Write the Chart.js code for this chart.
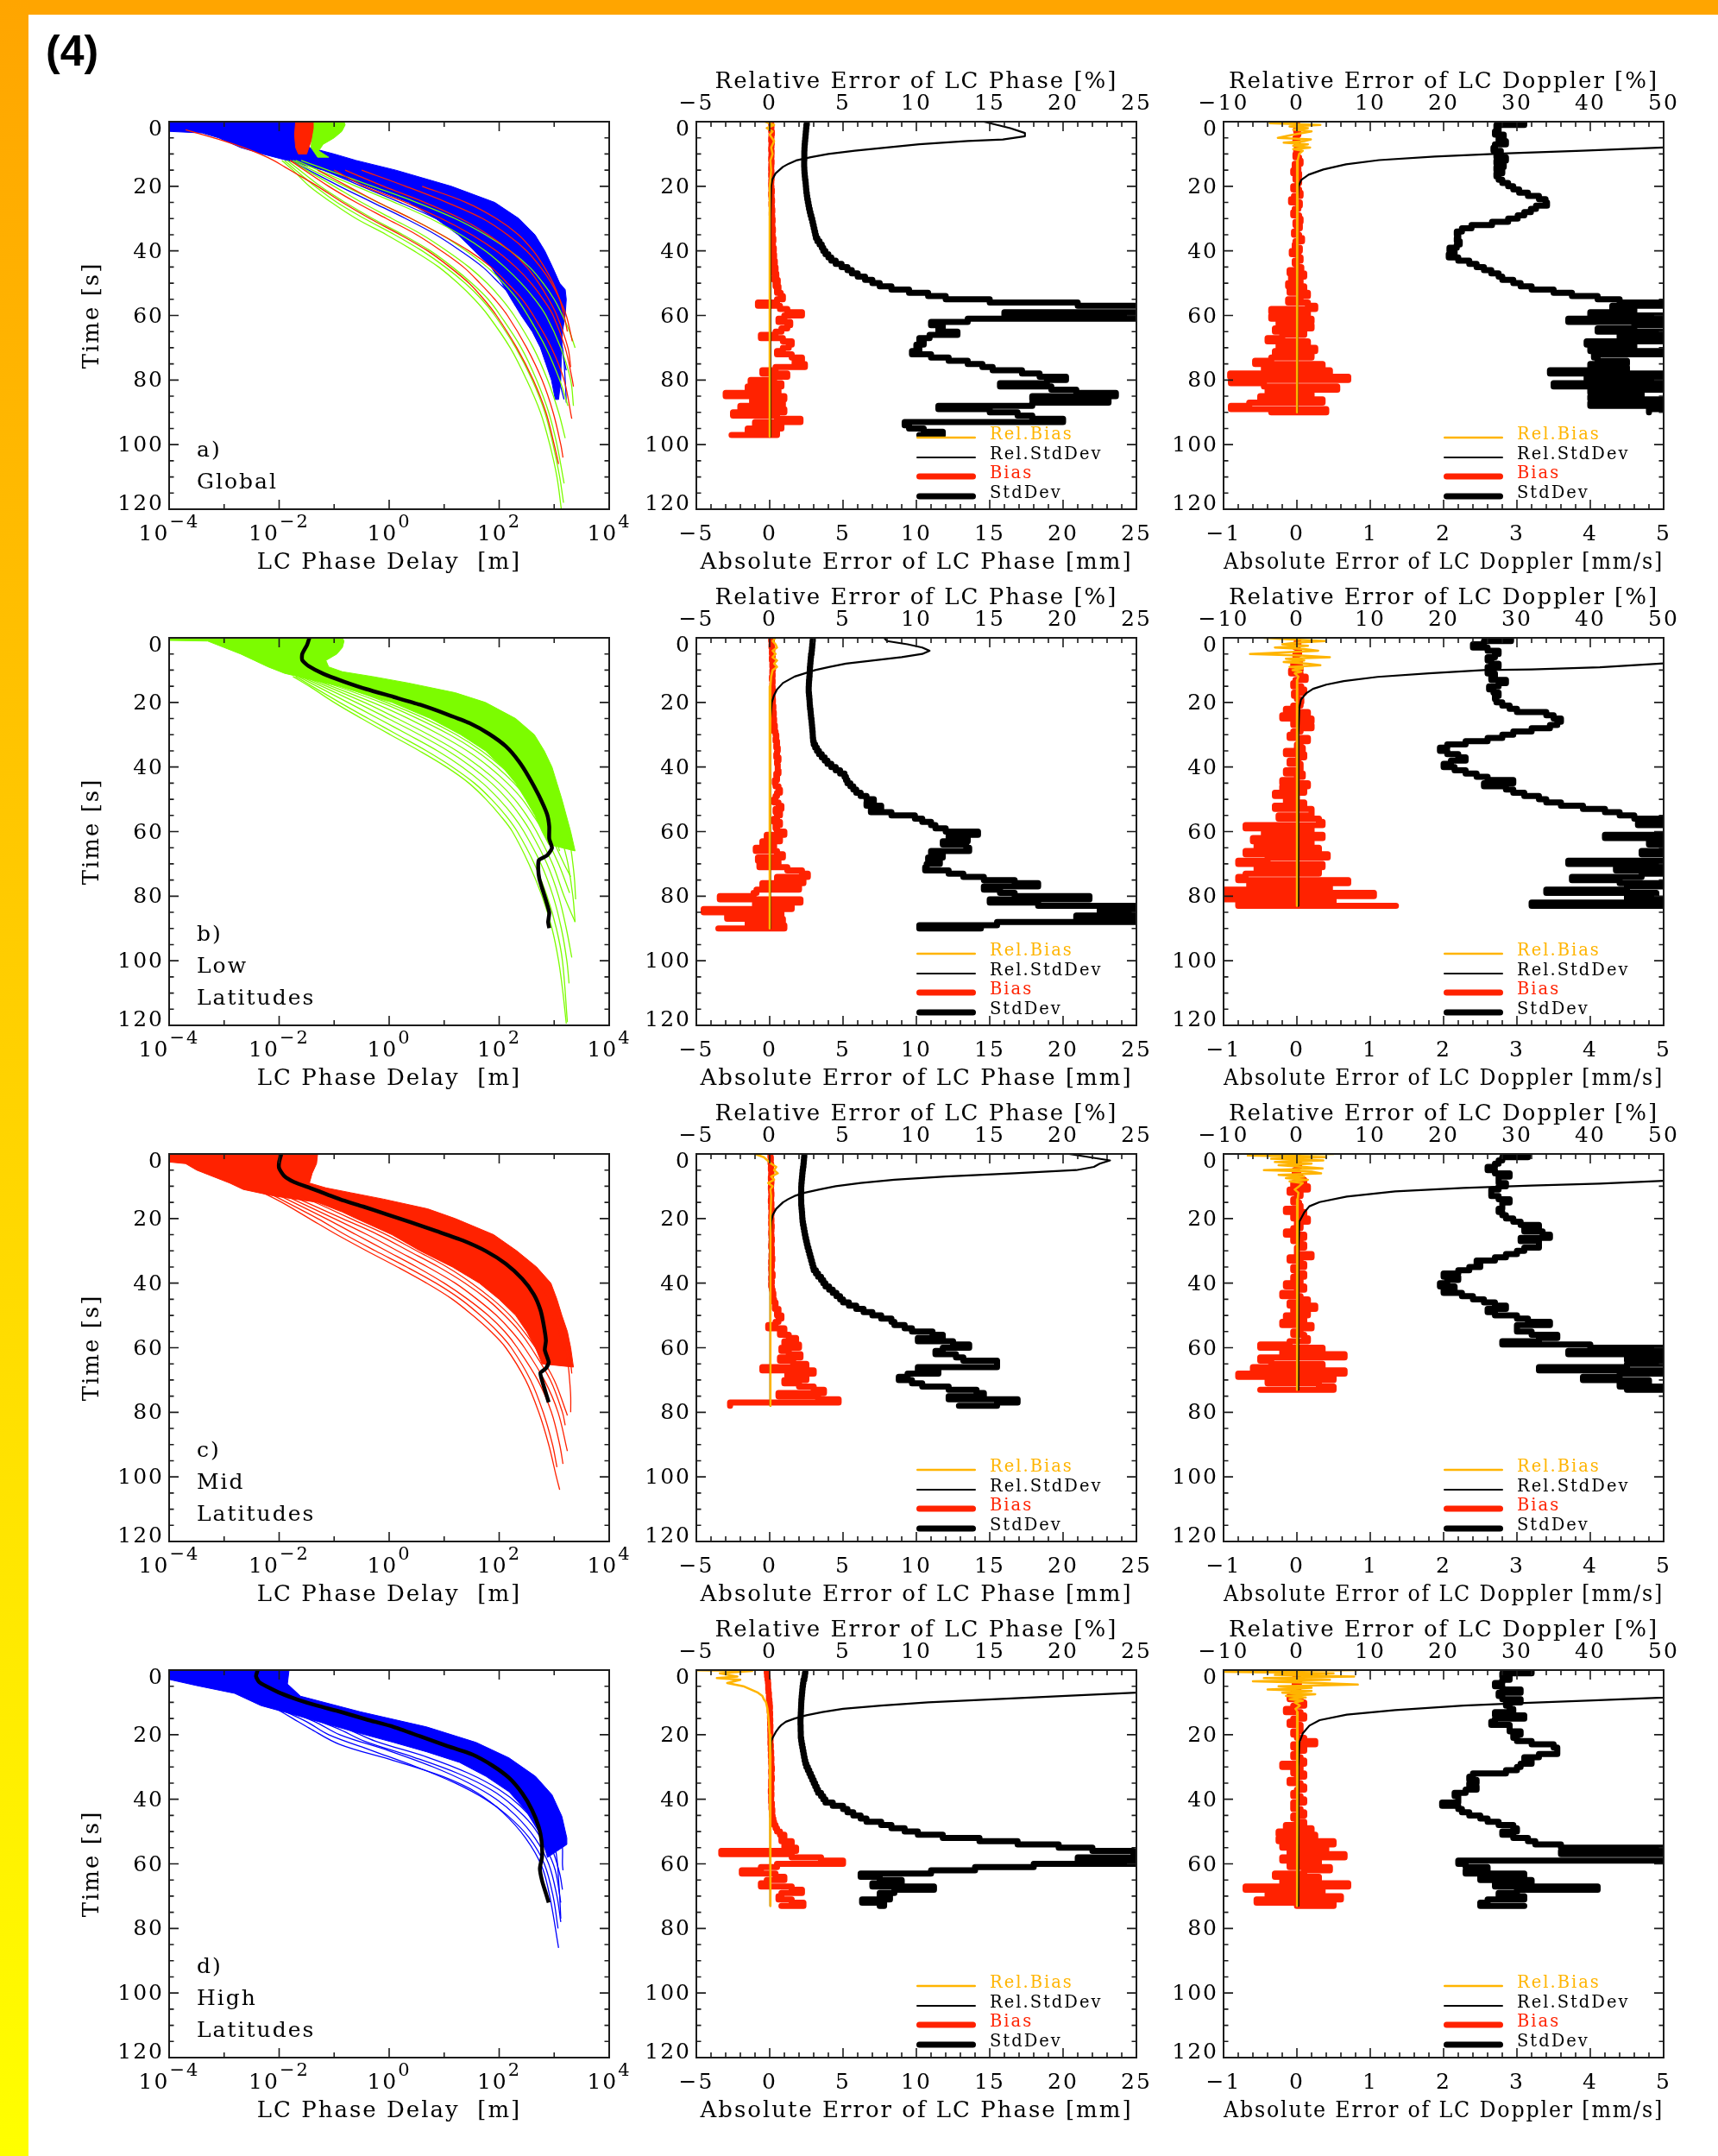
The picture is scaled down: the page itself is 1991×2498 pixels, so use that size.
<!DOCTYPE html>
<html>
<head>
<meta charset="utf-8">
<title>LC phase delay and error statistics</title>
<script src="https://cdn.jsdelivr.net/npm/chart.js@4.4.1/dist/chart.umd.min.js"></script>
<style>
  html, body { margin: 0; padding: 0; background: #fff; }
  body { position: relative; width: 1991px; height: 2498px; overflow: hidden; }
  #topbar { position: absolute; left: 0; top: 0; width: 1991px; height: 17px; background: #ffa500; }
  #leftbar { position: absolute; left: 0; top: 0; width: 33px; height: 2498px; background: linear-gradient(to bottom, #ffa500, #ffff00); }
  #fignum { position: absolute; left: 53px; top: 34px; font: bold 50px/50px 'Liberation Sans', Arial, sans-serif; color: #000; }
  canvas { position: absolute; }
</style>
</head>
<body>
<div id="topbar"></div>
<div id="leftbar"></div>
<div id="fignum">(4)</div>
<script>
const ORANGE = '#ffb400', RED = '#ff2200', GREEN = '#7cfc00', BLUE = '#0000ff';

// axis ticks + labels
const timeTicks = [0, 20, 40, 60, 80, 100, 120];
const timeLabels = ['0', '20', '40', '60', '80', '100', '120'];
const delayTicks = [1e-4, 1e-2, 1, 1e2, 1e4];
const delayExps = ['−4', '−2', '0', '2', '4'];   // drawn as 10^exp
const phaseTicks = [-5, 0, 5, 10, 15, 20, 25];
const phaseLabels = ['−5', '0', '5', '10', '15', '20', '25'];
const dopTicks = [-1, 0, 1, 2, 3, 4, 5];
const dopLabels = ['−1', '0', '1', '2', '3', '4', '5'];
const dopRelTicks = [-10, 0, 10, 20, 30, 40, 50];
const dopRelLabels = ['−10', '0', '10', '20', '30', '40', '50'];
const panelNames = [['a)', 'Global'], ['b)', 'Low', 'Latitudes'], ['c)', 'Mid', 'Latitudes'], ['d)', 'High', 'Latitudes']];

// time grid [s] for the bias / stddev profiles
const secs = [0,1,2,3,4,5,6,7,8,9,10,11,12,13,14,15,16,17,18,19,20,21,22,23,24,25,26,27,28,29,
  30,31,32,33,34,35,36,37,38,39,40,41,42,43,44,45,46,47,48,49,50,51,52,53,54,55,56,57,58,59,
  60,61,62,63,64,65,66,67,68,69,70,71,72,73,74,75,76,77,78,79,80,81,82,83,84,85,86,87,88,89,
  90,91,92,93,94,95,96,97];

// ---- LC phase delay curves, points are [time s, log10(delay m)]
const a1BlueBand = [[0,-4],[3,-4],[3.5,-3.4],[5,-3.1],[8,-2.7],[10,-2.3],[12,-1.85],[15,-1.2],[20,-0.4],[25,0.35],[30,0.85],[35,1.25],[40,1.55],[45,1.85],[50,2.05],[55,2.22],[60,2.4],[65,2.6],[70,2.75],[75,2.85],[80,2.95],[86,3.02],
  [86,3.08],[80,3.12],[72,3.13],[65,3.15],[60,3.2],[55,3.22],[52,3.2],[50,3.1],[45,2.97],[40,2.83],[35,2.65],[30,2.36],[25,1.92],[20,1.13],[15,0.12],[12,-0.6],[10,-1.0],[8,-1.45],[5,-1.6],[2,-1.5],[0,-1.4]];
const a1RedHook = [[0,-1.7],[4,-1.72],[8,-1.7],[10,-1.65],[10,-1.5],[6,-1.42],[2,-1.38],[0,-1.38]];
const a1GreenHook = [[0,-1.38],[4,-1.4],[8,-1.42],[11,-1.3],[11,-1.1],[9,-1.28],[7,-1.2],[5,-1.0],[3,-0.86],[1,-0.8],[0,-0.82]];
const a1Red = [
  [[2.5,-3.7],[4,-3.4],[6,-3.0],[8,-2.65],[10,-2.35],[12,-2.1],[14,-1.9],[17,-1.6],[20,-1.3],[25,-0.85],[30,-0.35],[35,0.2],[40,0.7],[45,1.1],[50,1.45],[55,1.72],[60,1.95],[70,2.32],[80,2.62],[90,2.85],[100,3.0],[106,3.08]],
  [[12,-1.8],[20,-1.1],[25,-0.6],[30,-0.05],[35,0.5],[40,0.95],[45,1.35],[50,1.65],[55,1.92],[60,2.15],[70,2.5],[80,2.78],[90,2.98],[100,3.12],[104,3.16]],
  [[15,-1.0],[20,-0.45],[25,0.3],[30,0.95],[35,1.5],[40,1.95],[45,2.3],[50,2.58],[55,2.8],[60,2.98],[70,3.2],[80,3.33],[82,3.35]],
  [[15,-0.5],[20,0.3],[25,1.05],[30,1.7],[35,2.15],[40,2.5],[45,2.75],[50,2.95],[55,3.1],[60,3.22],[68,3.33]],
  [[15,-1.3],[20,-0.75],[25,-0.2],[30,0.4],[35,0.95],[40,1.45],[45,1.85],[50,2.15],[55,2.42],[60,2.62],[70,2.95],[80,3.18],[92,3.32]],
  [[20,0.6],[25,1.4],[30,1.95],[35,2.35],[40,2.62],[45,2.82],[50,2.98],[55,3.1],[60,3.18],[65,3.24]],
  [[15,-0.8],[20,-0.1],[25,0.65],[30,1.3],[35,1.8],[40,2.2],[45,2.5],[50,2.72],[55,2.9],[60,3.05],[70,3.25],[76,3.3]]
];
const a1Green = [
  [[12,-1.95],[15,-1.75],[20,-1.45],[25,-1.05],[30,-0.6],[35,-0.05],[40,0.45],[45,0.9],[50,1.25],[55,1.55],[60,1.8],[70,2.2],[80,2.5],[90,2.75],[100,2.92],[110,3.05],[120,3.13]],
  [[12,-1.9],[15,-1.7],[20,-1.35],[25,-0.95],[30,-0.45],[35,0.1],[40,0.6],[45,1.02],[50,1.38],[55,1.68],[60,1.92],[70,2.3],[80,2.6],[90,2.83],[100,2.98],[110,3.1],[118,3.17]],
  [[12,-1.85],[20,-1.25],[25,-0.8],[30,-0.3],[35,0.25],[40,0.75],[45,1.15],[50,1.5],[55,1.8],[60,2.02],[70,2.4],[80,2.68],[90,2.9],[100,3.05],[112,3.18]],
  [[12,-1.8],[20,-1.0],[25,-0.5],[30,0.05],[35,0.6],[40,1.05],[45,1.45],[50,1.78],[55,2.05],[60,2.27],[70,2.62],[80,2.88],[90,3.08],[98,3.2]],
  [[12,-1.75],[20,-0.8],[25,-0.2],[30,0.4],[35,0.95],[40,1.4],[45,1.78],[50,2.08],[55,2.33],[60,2.52],[70,2.85],[80,3.1],[88,3.25]],
  [[12,-1.6],[20,-0.3],[25,0.5],[30,1.2],[35,1.75],[40,2.2],[45,2.55],[50,2.8],[55,3.0],[60,3.15],[65,3.28],[70,3.38]],
  [[12,-1.7],[20,-0.6],[25,0.1],[30,0.75],[35,1.3],[40,1.75],[45,2.1],[50,2.4],[55,2.65],[60,2.85],[70,3.12],[80,3.3],[88,3.35]]
];
const a1Blue = [
  [[12,-1.8],[20,-0.9],[25,-0.3],[30,0.3],[35,0.85],[40,1.3],[45,1.7],[50,2.0],[55,2.28],[60,2.5],[70,2.85],[80,3.08],[86,3.18]],
  [[12,-1.6],[20,-0.5],[25,0.2],[30,0.85],[35,1.4],[40,1.85],[45,2.2],[50,2.48],[55,2.7],[60,2.88],[70,3.12],[77,3.22]],
  [[12,-1.4],[20,-0.2],[25,0.5],[30,1.15],[35,1.7],[40,2.1],[45,2.4],[50,2.65],[55,2.85],[60,3.0],[70,3.15],[80,3.2],[87,3.22]]
];

const b1Band = [[0,-4],[0.8,-4],[1,-3.3],[3,-3.0],[5,-2.7],[7,-2.45],[9,-2.2],[11,-1.9],[13,-1.4],[15,-0.9],[18,-0.35],[20,0.05],[25,0.75],[30,1.3],[35,1.75],[40,2.06],[45,2.3],[50,2.48],[55,2.65],[60,2.78],[64,2.9],
  [66,3.38],[60,3.3],[55,3.22],[50,3.14],[45,3.05],[40,2.96],[35,2.82],[30,2.64],[25,2.3],[20,1.75],[17,1.2],[14,0.35],[12,-0.3],[10.5,-0.85],[9,-1.1],[7,-1.15],[5,-0.95],[3,-0.85],[1,-0.82],[0,-0.85]];
const b1Median = [[0,-1.45],[2.1,-1.49],[5,-1.58],[6.9,-1.58],[8.8,-1.46],[11.2,-1.19],[13.5,-0.83],[15.9,-0.41],[18.3,0.08],[20.7,0.56],[23.6,1.04],[26.4,1.46],[29.8,1.82],[33.6,2.12],[38.3,2.36],[43.1,2.54],[48.8,2.72],[54.6,2.87],[58.4,2.91],[62.2,2.91],[65.1,2.96],[67.4,2.87],[68.9,2.72],[71.7,2.71],[74.6,2.73],[77.5,2.78],[81.3,2.85],[85.1,2.91],[88,2.89],[89.9,2.91]];
const b1Green = [
  [[12,-1.75],[15,-1.45],[20,-1.0],[25,-0.5],[30,0.02],[35,0.55],[40,1.04],[45,1.45],[50,1.76],[55,2.02],[60,2.24],[70,2.54],[80,2.78],[90,2.96],[100,3.08],[110,3.16],[119.5,3.22]],
  [[12,-1.7],[20,-0.9],[25,-0.38],[30,0.15],[35,0.68],[40,1.15],[45,1.55],[50,1.86],[55,2.12],[60,2.33],[70,2.64],[80,2.87],[90,3.04],[100,3.15],[119,3.24]],
  [[12,-1.65],[20,-0.75],[25,-0.2],[30,0.35],[35,0.88],[40,1.33],[45,1.7],[50,2.0],[55,2.25],[60,2.45],[70,2.76],[80,2.98],[90,3.13],[100,3.23],[107,3.27]],
  [[12,-1.6],[20,-0.6],[25,-0.02],[30,0.55],[35,1.07],[40,1.5],[45,1.86],[50,2.15],[55,2.38],[60,2.57],[70,2.87],[80,3.08],[90,3.22],[99,3.32]],
  [[12,-1.55],[20,-0.45],[25,0.15],[30,0.72],[35,1.23],[40,1.65],[45,2.0],[50,2.28],[55,2.5],[60,2.68],[70,2.97],[80,3.18],[88,3.38]],
  [[12,-1.5],[20,-0.3],[25,0.35],[30,0.92],[35,1.42],[40,1.82],[45,2.15],[50,2.42],[55,2.62],[60,2.8],[70,3.08],[79,3.28]],
  [[12,-1.45],[20,-0.15],[25,0.52],[30,1.1],[35,1.58],[40,1.96],[45,2.27],[50,2.52],[55,2.72],[60,2.9],[70,3.18],[74,3.3]],
  [[14,-1.0],[20,-0.05],[25,0.65],[30,1.22],[35,1.68],[40,2.05],[45,2.35],[50,2.6],[55,2.8],[60,2.98],[66,3.1]],
  [[50,3.1],[55,3.17],[60,3.24],[65,3.3],[70,3.34],[75,3.37],[81,3.39]],
  [[55,3.0],[60,3.1],[65,3.18],[70,3.25],[80,3.34],[88,3.38]]
];

const c1Band = [[0,-4],[2.5,-4],[3,-3.7],[5,-3.5],[7,-3.2],[9,-2.9],[11,-2.65],[13,-2.1],[15,-1.3],[18,-0.85],[20,-0.6],[25,0.05],[30,0.56],[35,1.15],[40,1.64],[45,2.0],[50,2.3],[55,2.5],[60,2.66],[65,2.78],
  [66,3.35],[60,3.3],[55,3.24],[50,3.14],[45,3.05],[40,2.94],[35,2.68],[30,2.32],[25,1.9],[20,1.2],[17,0.7],[14,-0.1],[12,-0.7],[10.5,-1.15],[9,-1.45],[6,-1.4],[3,-1.32],[0,-1.3]];
const c1Median = [[0,-1.96],[2.5,-2.0],[4.4,-2.0],[6.8,-1.91],[8.7,-1.73],[10.6,-1.43],[12.5,-1.13],[14.4,-0.83],[16.3,-0.47],[18.7,-0.05],[21.1,0.38],[23.9,0.86],[26.8,1.34],[30.1,1.76],[34,2.12],[38.7,2.42],[43.5,2.63],[48.3,2.75],[53,2.81],[57.8,2.85],[60.7,2.83],[64.5,2.9],[66.4,2.85],[67.8,2.75],[70.2,2.78],[73,2.83],[76.9,2.9]];
const c1Red = [
  [[12,-2.3],[15,-1.95],[20,-1.45],[25,-0.95],[30,-0.41],[35,0.15],[40,0.68],[45,1.15],[50,1.52],[55,1.85],[60,2.12],[70,2.48],[80,2.72],[90,2.9],[100,3.04],[104,3.1]],
  [[12,-2.2],[20,-1.3],[25,-0.8],[30,-0.25],[35,0.32],[40,0.85],[45,1.3],[50,1.66],[55,1.97],[60,2.22],[70,2.57],[80,2.8],[90,2.97],[97,3.05]],
  [[12,-2.1],[20,-1.15],[25,-0.6],[30,-0.05],[35,0.5],[40,1.0],[45,1.43],[50,1.8],[55,2.1],[60,2.33],[70,2.7],[80,2.95],[90,3.1],[96,3.16]],
  [[12,-2.0],[20,-1.0],[25,-0.4],[30,0.15],[35,0.7],[40,1.2],[45,1.6],[50,1.95],[55,2.23],[60,2.46],[70,2.82],[80,3.07],[92,3.24]],
  [[12,-1.9],[20,-0.85],[25,-0.2],[30,0.35],[35,0.9],[40,1.38],[45,1.78],[50,2.1],[55,2.37],[60,2.58],[70,2.93],[80,3.15],[84,3.2]],
  [[13,-1.6],[20,-0.7],[25,-0.05],[30,0.5],[35,1.05],[40,1.5],[45,1.88],[50,2.2],[55,2.45],[60,2.66],[70,3.0],[80,3.22],[81,3.24]],
  [[40,2.7],[45,2.9],[50,3.05],[55,3.15],[60,3.24],[65,3.3],[68,3.32]],
  [[50,2.95],[55,3.08],[60,3.18],[65,3.25],[70,3.28],[75,3.3],[80,3.3]]
];

const d1Band = [[0,-4],[2.9,-4],[4.8,-3.5],[7.2,-2.81],[11,-2.33],[13.8,-1.73],[16.7,-1.13],[19.6,-0.53],[22.4,0.08],[25.3,0.68],[28.6,1.28],[32.9,1.76],[37.7,2.18],[43.4,2.48],[50.1,2.72],[55.8,2.84],[58,2.88],
  [54,3.23],[52,3.23],[45.3,3.14],[38.6,2.96],[32.9,2.66],[27.2,2.18],[22.4,1.58],[17.6,0.68],[12.9,-0.53],[8.1,-1.61],[4.3,-1.85],[0,-1.82]];
const d1Median = [[0,-2.39],[1.9,-2.42],[3.8,-2.36],[5.2,-2.21],[7.2,-1.97],[9.1,-1.67],[11,-1.31],[12.9,-0.89],[15.3,-0.41],[17.6,0.08],[20.5,0.56],[23.4,1.04],[26.2,1.52],[29.6,1.88],[33.4,2.18],[38.2,2.42],[43.4,2.6],[48.6,2.72],[52.9,2.77],[57.7,2.78],[61.5,2.74],[65.3,2.78],[69.2,2.85],[72,2.9]];
const d1Blue = [
  [[12,-2.05],[15,-1.75],[18,-1.45],[23,-0.9],[28,0.08],[33,0.98],[38,1.6],[44,2.06],[52,2.48],[61,2.78],[71,2.93],[86,3.08]],
  [[12,-2.0],[16,-1.5],[20,-1.1],[25,-0.3],[30,0.5],[35,1.2],[40,1.75],[45,2.15],[52,2.55],[60,2.82],[70,2.98],[80,3.07]],
  [[12,-1.95],[16,-1.35],[20,-0.9],[25,0.0],[30,0.8],[35,1.45],[40,1.95],[45,2.3],[52,2.65],[60,2.9],[70,3.05],[78,3.12]],
  [[12,-1.9],[18,-0.95],[22,-0.45],[27,0.45],[32,1.25],[37,1.85],[42,2.25],[48,2.6],[55,2.85],[62,3.02],[72,3.12]],
  [[12,-1.85],[18,-0.8],[22,-0.25],[27,0.7],[32,1.45],[37,2.0],[42,2.38],[48,2.7],[55,2.95],[63,3.1],[68,3.15]],
  [[45,3.0],[50,3.1],[55,3.15],[60,3.15],[62,3.16]],
  [[50,2.95],[55,3.02],[60,3.06],[65,3.08],[70,3.1],[77,3.12]]
];

// ---- LC phase errors: StdDev / Bias [mm] per second, Rel.* as [time s, %]
const aPhStd = [2.53,2.5,2.48,2.46,2.44,2.42,2.4,2.38,2.37,2.36,
  2.36,2.36,2.35,2.35,2.36,2.37,2.39,2.41,2.44,2.46,
  2.48,2.5,2.53,2.56,2.6,2.64,2.68,2.73,2.78,2.84,
  2.9,2.95,3.0,3.05,3.1,3.15,3.25,3.4,3.55,3.65,
  3.8,4.0,4.2,4.5,4.9,5.3,5.6,6.0,6.5,7.0,
  7.5,8.3,9.5,10.8,12,15,21,26,26,16,
  26,13.5,11,11.8,11.5,12.8,10.9,10.2,10.5,10,
  10.2,9.7,11,12.2,13.5,14.5,15.2,17.2,18.4,20.2,
  18.9,15.7,19.2,20.9,23.6,17.9,23.1,17.9,11.5,15,
  16.9,17.9,20,9.2,9.5,10.5,11.8,10.2];
const aPhBias = [0.1,0.12,0.1,0.15,0.12,0.1,0.14,0.12,0.1,0.13,
  0.12,0.1,0.13,0.11,0.1,0.12,0.1,0.13,0.11,0.1,
  0.12,0.15,0.1,0.13,0.16,0.12,0.15,0.18,0.14,0.17,
  0.2,0.15,0.18,0.22,0.16,0.2,0.25,0.18,0.22,0.28,
  0.2,0.3,0.25,0.35,0.2,0.4,0.25,0.45,0.3,0.55,
  0.4,0.6,0.5,0.75,0.9,0.5,-0.8,0.7,1.2,2.2,
  1.0,0.6,1.4,1.2,0.8,0.4,-0.6,0.9,1.5,1.3,
  0.9,0.5,1.5,2.2,1.7,2.4,0.4,-0.5,1.2,0.3,
  -1.3,0.8,-1.5,0.6,-3.0,1.0,-1.2,0.9,-2.0,1.0,
  -2.5,0.5,2.1,-1.0,0.8,-1.5,0.5,-2.6];
const aPhRelBias = [[0,-0.3],[1,0.3],[2,-0.2],[3,0.2],[4,0.0],[6,0.3],[8,0.1],[10,0.2],[12,0.05],[15,0.1],[20,0.0],[40,0.0],[60,0.0],[80,0.0],[97.5,0.0]];
const aPhRelStd = [[0,14.6],[1,15.5],[2,16.4],[3.5,17.4],[4.5,17.4],[5.5,15.9],[6,13.5],[7,10.2],[8,8.0],[9,5.8],[10,4.0],[11,2.8],[12,1.8],[13,1.3],[14,0.9],[16,0.4],[18,0.17],[20,0.1],[30,0.05],[97.5,0.05]];

const bPhStd = [2.94,2.92,2.9,2.88,2.86,2.82,2.8,2.78,2.76,2.74,
  2.73,2.72,2.7,2.68,2.67,2.66,2.66,2.68,2.7,2.72,
  2.73,2.75,2.78,2.8,2.82,2.85,2.87,2.89,2.91,2.93,
  2.94,2.96,3.0,3.1,3.22,3.36,3.55,3.75,3.94,4.2,
  4.5,4.8,5.1,5.2,5.3,5.5,5.7,5.9,6.2,6.6,
  7.1,6.6,7.6,6.9,8.3,9.9,10.4,11,11.3,12,
  14.2,12.2,13.5,11.8,13.4,13.6,11,11.8,10.8,11.6,
  10.7,10.6,12.2,13.2,14.6,16.7,18.3,14.6,15.7,16.7,
  21.8,15,18.3,24.9,22.5,26,20.9,26,15.5,10.2,
  14.4];
const bPhBias = [0.1,0.15,0.12,0.18,0.15,0.2,0.15,0.2,0.18,0.22,
  0.18,0.2,0.15,0.2,0.18,0.2,0.22,0.18,0.2,0.22,
  0.2,0.25,0.22,0.28,0.25,0.3,0.28,0.35,0.3,0.4,
  0.45,0.4,0.5,0.45,0.55,0.5,0.45,0.6,0.5,0.55,
  0.55,0.6,0.45,0.5,0.35,0.4,0.6,0.7,0.5,0.4,
  0.3,0.6,0.8,0.4,0.7,0.5,0.3,0.7,0.4,0.5,
  1.0,-0.2,0.7,-0.5,0.3,-0.95,0.5,0.9,-0.8,0.6,
  -0.7,1.2,2.2,2.6,0.5,2.3,-0.5,2.0,-0.9,-1.1,
  -3.4,2.1,-1.0,1.5,-4.5,0.8,-2.9,0.9,-1.5,1.0,
  -3.5];
const bPhRelBias = [[0,0.4],[1,0.2],[2,0.4],[3,0.5],[4,0.2],[5,0.4],[6,0.2],[7,0.5],[8,0.3],[9,0.5],[10,0.2],[12,0.1],[15,0.05],[20,0],[90,0]];
const bPhRelStd = [[0,7.8],[1,8.0],[2,9.4],[3,10.4],[4,10.9],[5,10.4],[6,9.0],[7,7.1],[8,5.2],[9,4.1],[10,3.1],[11,2.4],[12,1.7],[13,1.3],[14,0.9],[16,0.5],[18,0.28],[20,0.14],[25,0.05],[90,0.03]];

const cPhStd = [2.36,2.34,2.32,2.3,2.27,2.24,2.22,2.2,2.18,2.16,
  2.15,2.15,2.14,2.14,2.15,2.15,2.17,2.19,2.21,2.22,
  2.24,2.27,2.31,2.35,2.39,2.43,2.48,2.53,2.58,2.64,
  2.7,2.76,2.82,2.88,2.94,3.0,3.15,3.3,3.5,3.65,
  3.8,4.05,4.3,4.55,4.8,5.0,5.4,5.9,6.4,7.0,
  7.6,8.3,8.5,9.2,9.7,11.1,11.8,10.1,12.5,13.6,
  11.8,11.3,12.7,13.2,15.5,15.5,10.1,11.5,9.4,8.8,
  9.7,10.4,12.2,14.1,14.6,12.2,16.9,15.5,12.9];
const cPhBias = [0.05,0.08,0.06,0.1,0.08,0.12,0.1,0.08,0.12,0.1,
  0.08,0.1,0.12,0.1,0.08,0.12,0.1,0.14,0.12,0.1,
  0.12,0.1,0.14,0.12,0.1,0.12,0.15,0.12,0.1,0.15,
  0.15,0.12,0.18,0.1,0.15,0.1,0.12,0.2,0.1,0.15,
  0.1,0.15,0.2,0.25,0.2,0.3,0.4,0.35,0.6,0.5,
  0.8,0.6,0.4,-0.1,1.0,0.7,1.3,1.8,1.0,2.0,
  0.8,1.3,2.1,0.7,1.6,2.5,-0.5,3.0,1.2,2.5,
  1.0,2.0,3.0,3.7,0.6,3.3,4.7,-2.7,-2.7];
const cPhRelBias = [[0,-1.0],[1,-0.4],[2,-0.15],[3,0.1],[4,0.45],[5,0.3],[6,0.55],[7,0.1],[8,0.3],[9,-0.1],[10,0.2],[11,0.05],[13,0.1],[20,0.05],[78,0.05]];
const cPhRelStd = [[0,20.4],[1,21.8],[2,23.2],[3,22.5],[4,22.1],[5,20.9],[6,16.7],[7,12],[8,8.5],[9,6.2],[10,4.5],[11,3.4],[12,2.4],[13,1.7],[14,1.26],[15,0.9],[17,0.44],[19,0.2],[21,0.1],[25,0.05],[78,0.05]];

const dPhStd = [2.43,2.4,2.36,2.3,2.27,2.24,2.22,2.2,2.18,2.16,
  2.15,2.14,2.13,2.12,2.11,2.1,2.1,2.11,2.11,2.12,
  2.12,2.15,2.18,2.22,2.26,2.3,2.34,2.38,2.43,2.5,
  2.6,2.7,2.8,2.9,3.0,3.1,3.2,3.3,3.5,3.65,
  3.8,4.3,5.0,5.3,5.7,6.2,6.6,7.6,8.3,9.2,
  10.1,11.8,14.3,16.9,19.7,22,24.8,26,21,26,
  18,14,11,6.2,7.5,9.0,7.0,11.2,8.5,7.5,
  8.2,6.3,7.8,7.5];
const dPhBias = [-0.2,-0.18,-0.15,-0.12,-0.1,-0.1,-0.08,-0.05,-0.05,-0.02,
  0.0,0.02,0.0,0.03,0.02,0.04,0.03,0.05,0.04,0.05,
  0.05,0.06,0.05,0.08,0.07,0.1,0.08,0.12,0.1,0.12,
  0.15,0.1,0.12,0.15,0.1,0.1,0.12,0.08,0.12,0.1,
  0.1,0.15,0.12,0.18,0.15,0.2,0.25,0.3,0.4,0.5,
  0.7,1.0,0.8,1.5,1.0,1.8,-3.3,1.5,3.5,5.0,
  0.5,-0.6,-1.9,0.4,1.0,-0.2,-0.6,1.5,2.2,0.8,
  0.6,1.5,2.3,0.8];
const dPhRelBias = [[0,-6],[0.3,-1.2],[1,-3.4],[2,-2.2],[2.5,-3.6],[3,-2.0],[4,-2.9],[5,-1.8],[6,-1.3],[7,-0.8],[8,-0.5],[9,-0.4],[10,-0.25],[12,-0.15],[15,-0.08],[20,0],[73,0.05]];
const dPhRelStd = [[0,60],[6,32],[7,25],[8,20.2],[9,15.5],[10,10.8],[11,7.6],[12,5.0],[13,3.6],[14,2.5],[15,1.7],[16,1.1],[17,0.8],[18,0.6],[19,0.44],[21,0.2],[22,0.1],[27,0.05],[73,0.05]];

// ---- LC Doppler errors: StdDev / Bias [mm/s] per second, Rel.* as [time s, %]
const aDpStd = [3.1,2.72,2.75,2.7,2.82,2.75,2.85,2.7,2.68,2.78,
  2.72,2.85,2.72,2.82,2.72,2.8,2.72,2.75,2.8,2.88,
  2.95,3.03,3.15,3.3,3.39,3.41,3.26,3.19,3.1,3.01,
  2.88,2.66,2.38,2.25,2.18,2.2,2.18,2.22,2.18,2.08,
  2.15,2.07,2.2,2.35,2.45,2.55,2.65,2.75,2.8,2.95,
  3.05,3.2,3.5,3.75,4.1,4.4,5.05,4.3,4.6,4.0,
  5.05,3.7,5.05,4.6,4.1,5.05,4.4,5.05,3.95,4.6,
  4.0,5.05,4.05,4.1,4.5,4.0,4.5,3.45,5.05,3.95,
  5.05,3.5,5.05,4.0,4.7,4.0,5.05,4.0,5.05,4.8,
  4.8];
const aDpBias = [0.0,0.01,-0.01,0.02,0.0,-0.02,0.01,0.0,0.02,-0.01,
  -0.02,0.03,0.05,-0.03,0.02,-0.05,0.03,-0.02,0.03,0.01,
  -0.05,0.03,0.05,-0.04,-0.08,0.04,0.02,-0.03,-0.05,0.03,
  0.05,-0.02,0.04,0.0,-0.04,0.03,0.07,-0.02,-0.03,0.04,
  -0.07,0.02,0.05,-0.03,0.0,0.06,-0.1,0.1,-0.08,0.05,
  -0.12,0.1,-0.1,0.15,0.05,-0.12,0.15,0.25,-0.35,0.15,
  -0.35,0.2,-0.25,0.2,-0.3,0.1,-0.2,-0.4,0.15,-0.25,
  0.25,-0.3,0.2,-0.35,-0.57,0.35,-0.45,0.45,-0.91,0.7,
  -0.9,-0.45,0.55,-0.4,0.2,-0.5,0.35,-0.65,-0.9,0.4,
  -0.35];
const aDpRelBias = [[0,0.1],[0.5,-3.7],[1,3.2],[1.5,-1.0],[2,1.5],[2.5,-0.5],[3,2.0],[4,-0.5],[5,-2.6],[5.5,1.9],[6,1.0],[6.5,-1.8],[7,1.5],[7.5,-0.5],[8,1.8],[8.5,-0.5],[9,0.8],[10,0.3],[11,0.2],[12,0.1],[14,0.05],[20,0],[90,0]];
const aDpRelStd = [[0,90],[6,70],[7,58],[8,50],[9,38.9],[9.8,28.8],[10.8,18.8],[11.9,11.2],[13.2,6.7],[14.8,3.6],[16.4,1.6],[18,0.6],[20,0.2],[25,0.1],[90,0.05]];

const bDpStd = [2.92,2.55,2.4,2.6,2.75,2.7,2.6,2.65,2.75,2.6,
  2.6,2.7,2.65,2.85,2.75,2.62,2.68,2.75,2.7,2.72,
  2.8,2.9,3.0,3.4,3.5,3.6,3.55,3.45,3.2,2.95,
  2.8,2.6,2.3,2.05,1.95,2.05,2.2,2.3,2.1,2.0,
  2.15,2.3,2.45,2.6,2.95,2.55,2.85,2.95,3.1,3.3,
  3.4,3.6,3.9,4.2,4.4,4.6,5.05,4.65,5.05,5.05,
  5.05,4.2,5.05,4.8,5.05,5.05,4.7,5.05,5.05,3.7,
  5.05,4.35,5.05,4.7,3.75,4.4,5.05,4.5,3.4,4.9,
  4.5,5.05,3.2,5.05];
const bDpBias = [0.0,0.02,-0.02,0.01,0.03,-0.02,0.0,0.04,-0.05,0.05,
  -0.08,0.05,0.12,-0.02,-0.05,0.06,0.1,-0.04,0.0,0.06,
  0.05,-0.05,-0.15,0.15,-0.2,0.2,-0.05,0.2,0.05,-0.05,
  -0.1,0.15,0.05,0.0,0.08,-0.15,0.1,0.02,-0.1,0.05,
  0.05,-0.15,0.08,0.0,-0.2,0.15,-0.2,0.1,-0.3,0.0,
  -0.15,0.1,-0.3,0.2,0.2,-0.25,0.3,0.35,-0.7,0.2,
  -0.45,0.35,-0.6,0.2,-0.55,0.3,-0.7,0.42,-0.4,-0.8,
  0.35,-0.55,0.3,-0.7,-0.8,0.7,-0.65,0.45,-1.0,1.05,
  -1.0,0.5,-0.8,1.35];
const bDpRelBias = [[0,-4.5],[0.5,-1],[1,3.8],[1.5,0],[2,-2],[2.5,1.5],[3,-3.0],[3.5,1.0],[4,2.9],[4.5,-1.5],[5,-6.4],[5.5,0.5],[6,4.5],[6.5,-1.5],[7,1.0],[7.5,-1.8],[8,1.5],[8.5,3.2],[9,-1.0],[9.5,0.8],[10,-0.6],[10.5,0.6],[11,-0.3],[12,0.2],[13,0.05],[15,0],[83,0]];
const bDpRelStd = [[0,90],[6,65],[7.9,50],[9.1,41.3],[9.8,32],[10,25.5],[11,18],[12.1,11],[13.4,6.4],[14.5,4.0],[15.8,2.2],[17.2,1.25],[19.1,0.56],[21.5,0.33],[30,0.2],[83,0.2]];

const cDpStd = [3.15,2.8,2.75,2.7,2.6,2.7,2.9,2.75,2.75,2.85,
  2.75,2.65,2.65,2.75,2.9,2.8,2.8,2.75,2.8,2.85,
  2.95,3.05,3.3,3.1,3.35,3.45,3.05,3.3,3.3,3.1,
  3.0,2.85,2.7,2.45,2.5,2.35,2.2,2.0,2.2,2.05,
  1.95,2.15,2.0,2.25,2.4,2.55,2.7,2.85,2.6,2.7,
  3.0,3.15,3.45,3.0,3.0,3.2,3.55,3.3,2.8,4.0,
  5.05,3.7,5.05,4.5,5.05,4.5,3.3,5.05,4.4,3.9,
  4.8,4.4,5.05,4.5];
const cDpBias = [0.0,0.02,-0.02,0.03,0.0,-0.03,0.02,0.05,0.1,-0.05,
  0.15,-0.1,0.05,0.0,-0.05,0.03,0.05,-0.15,0.1,-0.05,
  0.15,0.0,0.05,-0.05,-0.15,0.1,-0.05,0.05,0.1,0.0,
  0.0,0.2,-0.1,0.05,0.1,-0.05,0.0,0.1,-0.05,0.05,
  -0.15,0.1,0.0,-0.2,0.05,0.15,-0.1,0.25,-0.05,0.15,
  -0.15,0.1,-0.2,0.2,0.05,-0.05,0.1,0.15,-0.1,-0.5,
  0.35,-0.2,0.65,-0.5,-0.35,0.35,-0.6,0.65,-0.8,0.5,
  -0.4,0.3,0.5,-0.5];
const cDpRelBias = [[0,5.0],[0.5,-6.7],[1,4.0],[1.5,-3.5],[2,3.6],[2.5,-3.0],[3,2.0],[3.5,-2.5],[4,1.0],[4.5,3.5],[5,-4.5],[5.5,2.0],[6,3.3],[6.5,-2.5],[7,1.0],[7.5,-1.5],[8,1.5],[8.5,-1.0],[9,0.8],[10,0.3],[11,-0.3],[12,0.2],[14,0.1],[16,0.05],[20,0],[73,0]];
const cDpRelStd = [[0,90],[6,65],[8.3,50],[9.2,41.3],[9.8,32],[10.5,22.7],[11.6,13.4],[13.2,6.8],[14.9,3.1],[16.2,1.7],[18.1,1.0],[21,0.33],[30,0.2],[73,0.2]];

const dDpStd = [3.2,2.8,2.9,2.8,2.7,2.8,3.05,2.75,2.8,3.05,
  2.85,2.9,2.95,2.7,3.1,2.7,2.65,2.9,2.9,3.05,
  2.95,3.0,3.2,3.5,3.55,3.55,3.3,3.1,3.2,3.05,
  3.0,2.85,2.4,2.35,2.45,2.35,2.45,2.3,2.15,2.2,
  2.2,1.98,2.2,2.25,2.35,2.5,2.6,2.75,2.95,3.0,
  2.8,2.95,3.15,3.25,3.6,5.05,3.6,5.05,5.05,2.2,
  2.3,2.6,2.3,3.1,2.5,3.2,2.7,4.1,3.0,2.75,
  3.1,2.6,2.5,3.1];
const dDpBias = [0.0,0.02,-0.02,0.03,-0.03,0.02,0.0,-0.05,-0.1,0.05,
  0.1,-0.05,-0.15,0.05,0.1,-0.05,-0.1,0.05,0.05,-0.05,
  0.0,0.1,0.25,-0.05,0.1,0.0,-0.05,0.05,0.1,-0.2,
  0.05,-0.05,0.1,0.0,-0.1,0.05,0.1,0.0,-0.05,0.05,
  0.1,-0.05,-0.05,0.05,0.1,-0.05,0.0,0.1,-0.15,0.2,
  -0.25,0.25,-0.25,0.5,-0.2,0.4,-0.1,0.65,-0.2,0.3,
  -0.1,0.45,0.1,-0.3,0.3,-0.2,0.7,-0.7,0.35,-0.4,
  0.6,-0.55,0.5,0.0];
const dDpRelBias = [[0,8.3],[0.5,-11],[1,5.0],[1.5,-3],[2,7.8],[2.5,-4.5],[3,4.5],[3.5,-6.0],[4,3.0],[4.5,8.3],[5,-2.5],[5.5,2.0],[6,-4.0],[6.5,2.0],[7,-2.0],[7.5,2.5],[8,-1.5],[8.5,1.2],[9,-1.0],[9.5,0.8],[10,-0.3],[11,0.4],[12,-0.2],[13,0.1],[15,0.05],[20,0],[73,0]];
const dDpRelStd = [[0,90],[6,65],[8.5,50],[9.4,40.4],[10.2,31],[11,22.7],[12.4,13.4],[13.8,6.8],[15.5,3.1],[17.2,1.7],[19.6,0.8],[22.4,0.33],[30,0.2],[73,0.2]];

// ---------------------------------------------------------------------------
const SERIF = "'DejaVu Serif', serif";
const TICK_FONT = {family: SERIF, size: 25};
const TITLE_FONT = {family: SERIF, size: 26};
const plotX = [196, 807, 1418], plotY = [141, 739, 1337, 1935];
const timeLabelShift = [9, 1.5, 1.5, 1.5, 1.5, 1.5, -6];   // end labels sit inside the frame

const delayPanels = [
  {median: null, lines: [[a1Red, RED], [a1Green, GREEN], [a1Blue, BLUE]], bands: [[a1RedHook, RED], [a1GreenHook, GREEN], [a1BlueBand, BLUE]]},
  {median: b1Median, lines: [[b1Green, GREEN]], bands: [[b1Band, GREEN]]},
  {median: c1Median, lines: [[c1Red, RED]], bands: [[c1Band, RED]]},
  {median: d1Median, lines: [[d1Blue, BLUE]], bands: [[d1Band, BLUE]]}
];
const phasePanels = [
  {std: aPhStd, bias: aPhBias, relBias: aPhRelBias, relStd: aPhRelStd},
  {std: bPhStd, bias: bPhBias, relBias: bPhRelBias, relStd: bPhRelStd},
  {std: cPhStd, bias: cPhBias, relBias: cPhRelBias, relStd: cPhRelStd},
  {std: dPhStd, bias: dPhBias, relBias: dPhRelBias, relStd: dPhRelStd}
];
const dopPanels = [
  {std: aDpStd, bias: aDpBias, relBias: aDpRelBias, relStd: aDpRelStd},
  {std: bDpStd, bias: bDpBias, relBias: bDpRelBias, relStd: bDpRelStd},
  {std: cDpStd, bias: cDpBias, relBias: cDpRelBias, relStd: cDpRelStd},
  {std: dDpStd, bias: dDpBias, relBias: dDpRelBias, relStd: dDpRelStd}
];
const phaseAxes = {
  bottom: {type: 'linear', min: -5, max: 25, ticks: phaseTicks, labels: phaseLabels, major: 5, minor: 1, title: 'Absolute Error of LC Phase [mm]'},
  top: {type: 'linear', min: -5, max: 25, ticks: phaseTicks, labels: phaseLabels, major: 5, minor: 1, title: 'Relative Error of LC Phase [%]', top: true}
};
const dopAxes = {
  bottom: {type: 'linear', min: -1, max: 5, ticks: dopTicks, labels: dopLabels, major: 1, minor: 0.2, title: 'Absolute Error of LC Doppler [mm/s]'},
  top: {type: 'linear', min: -10, max: 50, ticks: dopRelTicks, labels: dopRelLabels, major: 10, minor: 2, title: 'Relative Error of LC Doppler [%]', top: true}
};

// frame, inward ticks, time and 10^n labels, legends and panel text
const decor = {
  id: 'decor',
  beforeUpdate(chart) { chart.ctx.letterSpacing = '2px'; },
  beforeDraw(chart) { chart.ctx.letterSpacing = '2px'; },
  afterDraw(chart) {
    const d = chart.canvas.decor;
    const ctx = chart.ctx, a = chart.chartArea;
    ctx.save();
    ctx.strokeStyle = '#1c1c1c';
    ctx.lineWidth = 1.6;
    ctx.beginPath();
    const ys = chart.scales.y;
    for (let v = 0; v <= 120; v += 5) {
      const p = ys.getPixelForValue(v), len = v % 20 === 0 ? 11 : 5.5;
      ctx.moveTo(a.left, p); ctx.lineTo(a.left + len, p);
      ctx.moveTo(a.right, p); ctx.lineTo(a.right - len, p);
    }
    d.xTicks.forEach(({id, side, marks}) => {
      const s = chart.scales[id];
      marks.forEach(([v, major]) => {
        const p = s.getPixelForValue(v), len = major ? 11 : 6;
        if (side !== 'top') { ctx.moveTo(p, a.bottom); ctx.lineTo(p, a.bottom - len); }
        if (side !== 'bottom') { ctx.moveTo(p, a.top); ctx.lineTo(p, a.top + len); }
      });
    });
    ctx.stroke();
    ctx.lineWidth = 2;
    ctx.strokeRect(a.left, a.top, a.right - a.left, a.bottom - a.top);

    ctx.fillStyle = '#000';
    ctx.font = `25px ${SERIF}`;
    ctx.textAlign = 'right';
    ctx.textBaseline = 'middle';
    timeTicks.forEach((v, i) => ctx.fillText(timeLabels[i], a.left - 6, ys.getPixelForValue(v) + timeLabelShift[i]));

    if (d.powers) {
      const xs = chart.scales.x;
      ctx.textAlign = 'left';
      delayTicks.forEach((v, i) => {
        const p = xs.getPixelForValue(v);
        ctx.font = `25px ${SERIF}`;
        const w1 = ctx.measureText('10').width;
        ctx.font = `21px ${SERIF}`;
        const w2 = ctx.measureText(delayExps[i]).width;
        const x0 = p - (w1 + w2) / 2;
        ctx.font = `25px ${SERIF}`;
        ctx.fillText('10', x0, a.bottom + 29);
        ctx.font = `21px ${SERIF}`;
        ctx.fillText(delayExps[i], x0 + w1, a.bottom + 16);
      });
    }
    if (d.legend) {
      const rows = [366, 389, 411, 434];
      ctx.font = `19.5px ${SERIF}`;
      ctx.textAlign = 'left';
      ctx.textBaseline = 'alphabetic';
      chart.data.datasets.slice(0, 4).forEach((ds, i) => {
        const y = a.top + rows[i], w = ds.borderWidth;
        ctx.strokeStyle = ds.borderColor;
        ctx.lineWidth = w;
        ctx.lineCap = 'round';
        ctx.beginPath();
        ctx.moveTo(a.left + 255 + w / 2, y);
        ctx.lineTo(a.left + 324 - w / 2, y);
        ctx.stroke();
        ctx.fillStyle = ds.borderColor;
        ctx.fillText(ds.label, a.left + 340, y + 2);
      });
    }
    if (d.label) {
      ctx.font = `25px ${SERIF}`;
      ctx.fillStyle = '#000';
      ctx.textAlign = 'left';
      ctx.textBaseline = 'middle';
      const n = d.label.length;
      d.label.forEach((s, i) => ctx.fillText(s, a.left + 32, a.top + 418 - (n - 1 - i) * 37));
    }
    ctx.restore();
  }
};

function linMarks(ax) {
  const out = [];
  for (let i = 0; ; i++) {
    const v = Math.round((ax.min + i * ax.minor) * 1000) / 1000;
    if (v > ax.max + 1e-9) break;
    const r = v / ax.major;
    out.push([v, Math.abs(r - Math.round(r)) < 1e-6]);
  }
  return out;
}
function logMarks() {
  const out = [];
  for (let e = -4; e <= 4; e++) out.push([Math.pow(10, e), e % 2 === 0]);
  return out;
}

function makeCanvas(col, row) {
  const c = document.createElement('canvas');
  c.width = 660; c.height = 629;
  c.style.left = (plotX[col] - 110) + 'px';
  c.style.top = (plotY[row] - 90) + 'px';
  c.style.width = '660px'; c.style.height = '629px';
  document.body.appendChild(c);
  return c;
}

function yAxis(withTitle) {
  return {
    type: 'linear', position: 'left', min: 0, max: 120, reverse: true,
    afterFit: s => { s.width = 110; },
    afterBuildTicks: s => { s.ticks = timeTicks.map(v => ({value: v})); },
    grid: {display: false, drawTicks: false}, border: {display: false},
    ticks: {display: false},
    title: {display: withTitle, text: 'Time [s]', color: '#000', font: TITLE_FONT, padding: {top: 6, bottom: 0}}
  };
}
function xAxis(o) {
  return {
    type: o.type, axis: 'x', position: o.top ? 'top' : 'bottom', min: o.min, max: o.max,
    afterFit: s => { s.height = 90; },
    afterBuildTicks: s => { s.ticks = o.ticks.map(v => ({value: v})); },
    grid: {display: false, drawTicks: false}, border: {display: false},
    ticks: {display: !!o.labels, padding: o.top ? 6 : 14, color: '#000', font: TICK_FONT, autoSkip: false, maxRotation: 0, minRotation: 0,
            callback: (v, i) => o.labels ? o.labels[i] : ''},
    title: {display: true, text: o.title, color: '#000', font: TITLE_FONT,
            padding: o.top ? {top: 29, bottom: 0} : {top: 0, bottom: 12}}
  };
}
function baseOptions(topPad, scales) {
  return {
    responsive: false, animation: false, events: [],
    layout: {padding: {left: 0, right: 40, top: topPad, bottom: 0}},
    plugins: {legend: {display: false}, tooltip: {enabled: false}},
    scales
  };
}

function delayChart(row) {
  const spec = delayPanels[row];
  const canvas = makeCanvas(0, row);
  canvas.decor = {label: panelNames[row], powers: true, xTicks: [{id: 'x', side: 'both', marks: logMarks()}]};
  const toPts = arr => arr.map(([t, e]) => ({x: Math.pow(10, e), y: t}));
  const datasets = [];
  if (spec.median) datasets.push({data: toPts(spec.median), borderColor: '#000', borderWidth: 4.5, tension: 0.2});
  spec.lines.forEach(([group, color]) => group.forEach(c =>
    datasets.push({data: toPts(c), borderColor: color, borderWidth: 1.3, tension: 0.35})));
  spec.bands.forEach(([poly, color]) =>
    datasets.push({data: toPts(poly), borderColor: color, borderWidth: 1, backgroundColor: color, fill: 'shape', tension: 0}));
  datasets.forEach(ds => Object.assign(ds, {pointRadius: 0, clip: 0}));
  new Chart(canvas, {
    type: 'line',
    data: {datasets},
    options: baseOptions(90, {
      x: xAxis({type: 'logarithmic', min: 1e-4, max: 1e4, ticks: delayTicks, labels: null, title: 'LC Phase Delay  [m]'}),
      y: yAxis(true)
    }),
    plugins: [decor]
  });
}

function errChart(p, col, row) {
  const ax = col === 1 ? phaseAxes : dopAxes;
  const canvas = makeCanvas(col, row);
  canvas.decor = {legend: true, xTicks: [
    {id: 'x', side: 'bottom', marks: linMarks(ax.bottom)},
    {id: 'x2', side: 'top', marks: linMarks(ax.top)}]};
  const perSec = vals => vals.map((v, i) => ({x: v, y: secs[i]}));
  const pairs = arr => arr.map(([t, v]) => ({x: v, y: t}));
  const datasets = [
    {label: 'Rel.Bias', data: pairs(p.relBias), xAxisID: 'x2', borderColor: ORANGE, borderWidth: 2.5},
    {label: 'Rel.StdDev', data: pairs(p.relStd), xAxisID: 'x2', borderColor: '#000', borderWidth: 2.2},
    {label: 'Bias', data: perSec(p.bias), xAxisID: 'x', borderColor: RED, borderWidth: 7, stepped: 'after'},
    {label: 'StdDev', data: perSec(p.std), xAxisID: 'x', borderColor: '#000', borderWidth: 7, stepped: 'after'}
  ];
  datasets.forEach(ds => Object.assign(ds, {yAxisID: 'y', pointRadius: 0, clip: 0, fill: false,
    borderJoinStyle: 'round', borderCapStyle: 'round'}));
  new Chart(canvas, {
    type: 'line',
    data: {datasets},
    options: baseOptions(0, {x: xAxis(ax.bottom), x2: xAxis(ax.top), y: yAxis(false)}),
    plugins: [decor]
  });
}

for (let row = 0; row < 4; row++) {
  delayChart(row);
  errChart(phasePanels[row], 1, row);
  errChart(dopPanels[row], 2, row);
}
</script>
</body>
</html>
